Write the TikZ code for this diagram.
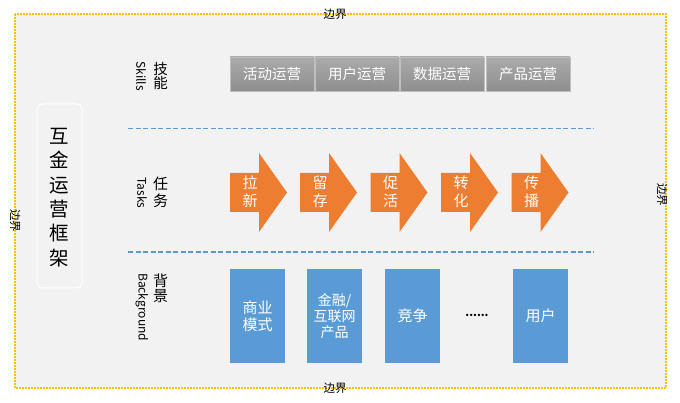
\documentclass[tikz,border=0pt]{standalone}
\usepackage{fontspec}
\setmainfont{Noto Sans CJK SC}
\definecolor{bgc}{HTML}{F2F2F2}
\definecolor{bordc}{HTML}{FFC000}
\definecolor{bluc}{HTML}{5B9BD5}
\definecolor{orgc}{HTML}{ED7D31}
\definecolor{skilltop}{HTML}{ABABAB}
\definecolor{skillbot}{HTML}{8E8E8E}
\definecolor{skillbd}{HTML}{BFBFBF}
\begin{document}
\begin{tikzpicture}[x=1pt,y=-1pt,
  edgelabel/.style={font=\fontsize{11.5}{12}\selectfont, text=black, inner sep=0pt},
  skillbox/.style={draw=skillbd, line width=0.8pt, top color=skilltop, bottom color=skillbot,
    minimum width=84pt, minimum height=34pt, inner sep=0pt, text=white,
    font=\fontsize{14.5}{16}\selectfont},
  bgbox/.style={fill=bluc, minimum width=55pt, minimum height=94pt, inner sep=0pt, text=white,
    align=center},
  tasktext/.style={text=white, align=center, inner sep=0pt, font=\fontsize{15}{18}\selectfont},
  rowcn/.style={align=center, inner sep=0pt, text=black},
  rowen/.style={rotate=-90, inner sep=0pt, text=black, font=\fontsize{12}{12}\selectfont},
  sepline/.style={draw=bluc, line width=1.6pt, dash pattern=on 5pt off 2.5pt}
]
\useasboundingbox (0,0) rectangle (680,403);
\fill[white] (0,0) rectangle (680,403);
% outer border
\draw[bordc, fill=bgc, line width=1.6pt, dash pattern=on 1.6pt off 1.4pt] (15,14) rectangle (666,388);
\node[edgelabel] (btop) at (335,14.5) {边界};
\node[edgelabel] (bbot) at (335,388) {边界};
\node[edgelabel, rotate=-90] (bleft) at (15,221) {边界};
\node[edgelabel, rotate=-90] (bright) at (662,195) {边界};

% title box
\node[draw=white, line width=1pt, rounded corners=6pt, minimum width=45pt, minimum height=184pt,
  inner sep=0pt] (titlebox) at (59.5,196) {};
\node[align=center, inner sep=0pt, font=\fontsize{19.5}{24.3}\selectfont] (title) at (59.5,197.5)
  {互\\金\\运\\营\\框\\架};

% row labels
\node[rowcn, font=\fontsize{14.5}{14}\selectfont] (skillcn) at (160.5,76) {技\\能};
\node[rowen] (skillen) at (141,76) {Skills};
\node[rowcn, font=\fontsize{15}{17}\selectfont] (taskcn) at (160.5,192) {任\\务};
\node[rowen] (tasken) at (142,193) {Tasks};
\node[rowcn, font=\fontsize{15}{15}\selectfont] (bgcn) at (160.5,288) {背\\景};
\node[rowen, anchor=west] (bgen) at (142,273) {Background};

% skills
\node[skillbox] (s1) at (272,74) {活动运营};
\node[skillbox] (s2) at (357,74) {用户运营};
\node[skillbox] (s3) at (442,74) {数据运营};
\node[skillbox] (s4) at (528,74) {产品运营};

% separators
\coordinate (l1a) at (128,128.5);
\coordinate (l1b) at (594,128.5);
\coordinate (l2a) at (128,252);
\coordinate (l2b) at (594,252);
\draw[sepline] (l1a) -- (l1b);
\draw[sepline] (l2a) -- (l2b);

% task arrows
\foreach \x/\a/\b/\n in {230/拉/新/t1, 300/留/存/t2, 370.5/促/活/t3, 441/转/化/t4, 511.5/传/播/t5}{
  \fill[orgc] (\x,173) -- ++(29,0) -- ++(0,-20) -- ++(28,39.5) -- ++(-28,39.5) -- ++(0,-20)
    -- ++(-29,0) -- cycle;
  \node[tasktext] (\n) at (\x+20,192) {\a\\\b};
}

% background boxes
\node[bgbox, font=\fontsize{15}{17}\selectfont] (g1) at (257.5,316) {商业\\模式};
\node[bgbox, font=\fontsize{14}{16}\selectfont] (g2) at (334.5,316) {金融/\\互联网\\产品};
\node[bgbox, font=\fontsize{15}{17}\selectfont] (g3) at (412.5,316) {竞争};
\node[inner sep=0pt, font=\fontsize{11}{12}\selectfont\bfseries] (g4) at (477,315) {......};
\node[bgbox, font=\fontsize{15}{17}\selectfont] (g5) at (540.5,316) {用户};
\end{tikzpicture}
\end{document}
